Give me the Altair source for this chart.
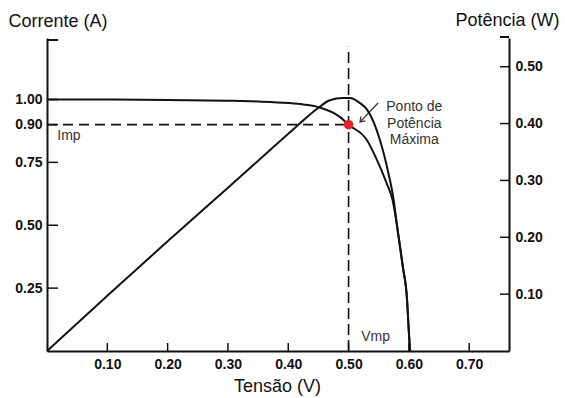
import altair as alt
import pandas as pd

# ---- data ----
v_iv = [0.0, 0.10, 0.20, 0.30, 0.35, 0.40, 0.425, 0.449, 0.486, 0.50, 0.530, 0.547, 0.563, 0.573, 0.582, 0.590, 0.597, 0.600, 0.602]
i_iv = [1.0, 1.0, 0.998, 0.995, 0.992, 0.986, 0.980, 0.970, 0.930, 0.900, 0.840, 0.760, 0.668, 0.600, 0.470, 0.334, 0.203, 0.072, 0.0]

v_pv = [0.0, 0.10, 0.20, 0.30, 0.40, 0.42, 0.449, 0.469, 0.49, 0.502, 0.519, 0.531, 0.552, 0.566, 0.574, 0.582, 0.590, 0.597, 0.600, 0.602]
p_pv = [0.0, 0.097, 0.193, 0.287, 0.382, 0.401, 0.427, 0.441, 0.445, 0.445, 0.436, 0.424, 0.371, 0.313, 0.271, 0.208, 0.148, 0.090, 0.032, 0.0]

x_ticks = [0.10, 0.20, 0.30, 0.40, 0.50, 0.60, 0.70]
i_ticks = [0.25, 0.50, 0.75, 0.90, 1.00]
p_ticks = [0.10, 0.20, 0.30, 0.40, 0.50]

v_mp, i_mp = 0.50, 0.90
vline_top = 1.21
arrow_tail = (0.549, 0.986)
arrow_head = (0.519, 0.911)
label_mpp = "Ponto de\nPotência\nMáxima"
label_mpp_pos = (0.609, 0.970)
label_imp_pos = (0.017, 0.855)
label_vmp_pos = (0.521, 0.055)

# ---- layout ----
W, H = 462, 313
X_MAX, I_MAX, P_MAX = 0.766, 1.2445, 0.5505
FONT = "Liberation Sans"
INK = "#111111"

xs = alt.Scale(domain=[0, X_MAX], nice=False, zero=False)
ys_i = alt.Scale(domain=[0, I_MAX], nice=False)
ys_p = alt.Scale(domain=[0, P_MAX], nice=False)

x_axis = alt.Axis(
    values=x_ticks, format=".2f", ticks=False, tickSize=0, grid=False,
    domainColor=INK, domainWidth=2, labelFont=FONT, labelFontSize=14,
    labelFontWeight="bold", labelColor=INK, labelPadding=6,
    title="Tensão (V)", titleFont=FONT, titleFontSize=18, titleFontWeight="normal",
    titleColor=INK, titleX=230, titleY=35, titleAlign="center", titleBaseline="middle")
i_axis = alt.Axis(
    values=i_ticks, format=".2f", ticks=False, tickSize=0, grid=False,
    domainColor=INK, domainWidth=2, labelFont=FONT, labelFontSize=14,
    labelFontWeight="bold", labelColor=INK, labelPadding=5,
    title="Corrente (A)", titleFont=FONT, titleFontSize=18, titleFontWeight="normal",
    titleColor=INK, titleAngle=0, titleAlign="left", titleBaseline="middle",
    titleX=-39, titleY=-17)
p_axis = alt.Axis(
    orient="right", values=p_ticks, format=".2f", ticks=False, tickSize=0, grid=False,
    domainColor=INK, domainWidth=2, labelFont=FONT, labelFontSize=14,
    labelFontWeight="bold", labelColor=INK, labelPadding=6,
    title="Potência (W)", titleFont=FONT, titleFontSize=18, titleFontWeight="normal",
    titleColor=INK, titleAngle=0, titleAlign="left", titleBaseline="middle",
    titleX=-54, titleY=-18)


def X(f):
    return alt.X(f, type="quantitative", scale=xs, axis=x_axis)


def YI(f):
    return alt.Y(f, type="quantitative", scale=ys_i, axis=i_axis)


def YP(f):
    return alt.Y(f, type="quantitative", scale=ys_p, axis=p_axis)


iv_df = pd.DataFrame({"v": v_iv, "i": i_iv})
pv_df = pd.DataFrame({"v": v_pv, "p": p_pv})

iv_line = alt.Chart(iv_df).mark_line(color=INK, strokeWidth=2, interpolate="monotone").encode(
    x=X("v"), y=YI("i"))

left_ticks = alt.Chart(pd.DataFrame({"i": i_ticks})).mark_rule(color=INK, strokeWidth=1.5).encode(
    x=alt.value(0), x2=alt.value(11), y=YI("i"))
left_top = alt.Chart(pd.DataFrame({"a": [0]})).mark_rule(color=INK, strokeWidth=2).encode(
    x=alt.value(0), x2=alt.value(11), y=alt.value(2))
bottom_ticks = alt.Chart(pd.DataFrame({"v": x_ticks})).mark_rule(color=INK, strokeWidth=1.5).encode(
    x=X("v"), y=alt.value(H), y2=alt.value(H - 8))

hline = alt.Chart(pd.DataFrame({"v0": [0.0], "v1": [v_mp], "i": [i_mp]})).mark_rule(
    color=INK, strokeWidth=1.6, strokeDash=[10, 6]).encode(
    x=X("v0"), x2="v1:Q", y=YI("i"))
vline = alt.Chart(pd.DataFrame({"v": [v_mp], "i0": [0.0], "i1": [vline_top]})).mark_rule(
    color=INK, strokeWidth=1.6, strokeDash=[11, 5]).encode(
    x=X("v"), y=YI("i0"), y2="i1:Q")

dot = alt.Chart(pd.DataFrame({"v": [v_mp], "i": [i_mp]})).mark_circle(
    color="#e8202a", size=90, opacity=1).encode(x=X("v"), y=YI("i"))

arrow = alt.Chart(pd.DataFrame({"v0": [arrow_tail[0]], "i0": [arrow_tail[1]],
                                "v1": [arrow_head[0]], "i1": [arrow_head[1]]})).mark_rule(
    color="#333333", strokeWidth=1.3).encode(
    x=X("v0"), y=YI("i0"), x2="v1:Q", y2="i1:Q")
arrowhead = alt.Chart(pd.DataFrame({"v": [arrow_head[0]], "i": [arrow_head[1]]})).mark_point(
    shape="M -1 -0.7 L 0 0 L -1 0.7", filled=False, stroke="#333333", strokeWidth=1.3,
    size=80, angle=134, opacity=1).encode(x=X("v"), y=YI("i"))

texts_df = pd.DataFrame({
    "v": [label_mpp_pos[0]], "i": [label_mpp_pos[1]], "t": [label_mpp]})
mpp_text = alt.Chart(texts_df).mark_text(
    font=FONT, fontSize=14, color="#333333", align="center", baseline="middle",
    lineBreak="\n", lineHeight=16.5).encode(x=X("v"), y=YI("i"), text="t:N")

side_df = pd.DataFrame({
    "v": [label_imp_pos[0], label_vmp_pos[0]],
    "i": [label_imp_pos[1], label_vmp_pos[1]],
    "t": ["Imp", "Vmp"]})
side_text = alt.Chart(side_df).mark_text(
    font=FONT, fontSize=14, color="#333333", align="left", baseline="middle").encode(
    x=X("v"), y=YI("i"), text="t:N")

pv_line = alt.Chart(pv_df).mark_line(color=INK, strokeWidth=2, interpolate="monotone").encode(
    x=X("v"), y=YP("p"))
right_ticks = alt.Chart(pd.DataFrame({"p": p_ticks})).mark_rule(color=INK, strokeWidth=1.5).encode(
    x=alt.value(W - 9), x2=alt.value(W), y=YP("p"))
right_top = alt.Chart(pd.DataFrame({"a": [0]})).mark_rule(color=INK, strokeWidth=2).encode(
    x=alt.value(W - 9), x2=alt.value(W), y=alt.value(-1))

iv_group = alt.layer(iv_line, left_ticks, left_top, bottom_ticks, hline, vline,
                     arrow, arrowhead, dot, mpp_text, side_text)
pv_group = alt.layer(pv_line, right_ticks, right_top)

chart = alt.layer(iv_group, pv_group).resolve_scale(y="independent").properties(
    width=W, height=H,
    autosize=alt.AutoSizeParams(type="none"),
    padding={"left": 47, "top": 38, "right": 56, "bottom": 47},
    background="white",
).configure_view(stroke=None)

chart.save("out.html", embed_options={"renderer": "svg", "actions": False})
